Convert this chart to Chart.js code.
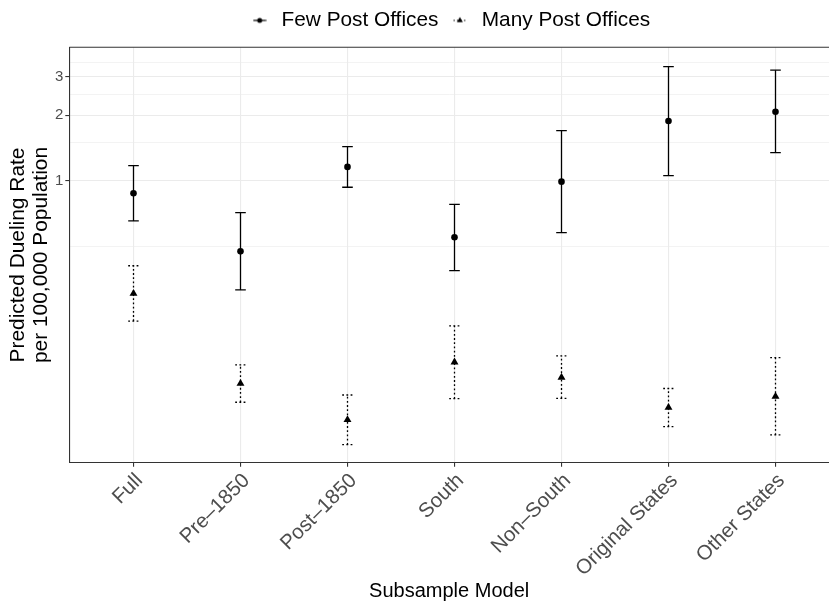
<!DOCTYPE html>
<html>
<head>
<meta charset="utf-8">
<script src="https://cdn.jsdelivr.net/npm/chart.js@4/dist/chart.umd.min.js"></script>
<style>
  html, body { margin: 0; padding: 0; background: #ffffff; overflow: hidden; }
  #wrap { width: 829px; height: 603px; position: relative; }
</style>
</head>
<body>
<div id="wrap"><canvas id="c" width="829" height="603"></canvas></div>
<script>
// ---- data ----
const categories = ["Full", "Pre\u20131850", "Post\u20131850", "South", "Non\u2013South", "Original States", "Other States"];
const seriesNames = ["Few Post Offices", "Many Post Offices"];

const fewEst  = [0.878, 0.476, 1.160, 0.552, 0.993, 1.883, 2.077];
const fewLow  = [0.656, 0.317, 0.936, 0.388, 0.580, 1.058, 1.348];
const fewHigh = [1.175, 0.716, 1.436, 0.782, 1.700, 3.340, 3.220];

const manyEst  = [0.305, 0.118, 0.0805, 0.148, 0.126, 0.0916, 0.103];
const manyLow  = [0.228, 0.0969, 0.0619, 0.1006, 0.101, 0.0749, 0.0686];
const manyHigh = [0.409, 0.1436, 0.1046, 0.217, 0.158, 0.112, 0.155];

const yMajorTicks = [1, 2, 3];
const yMinorTicks = [0.5, 1.5, 2.5, 3.5];
const yRange = [0.0512, 4.097];
const xRange = [-0.6, 6.5];

// ---- styling ----
const FONT = "'Liberation Sans', Arial, Helvetica, sans-serif";
const GRID = '#ebebeb';
const AXIS = '#333333';
const TICKTXT = '#4d4d4d';

const errorSeries = [
  { low: fewLow,  high: fewHigh,  dash: [] },
  { low: manyLow, high: manyHigh, dash: [1.8, 2.4] }
];

function makeLegendSymbol(kind) {
  const c = document.createElement('canvas');
  c.width = 14; c.height = 10;
  const g = c.getContext('2d');
  g.strokeStyle = '#000'; g.fillStyle = '#000'; g.lineWidth = 1.2;
  if (kind === 'dot') g.setLineDash([]); else g.setLineDash([1.5, 2]);
  g.beginPath(); g.moveTo(0.5, 5); g.lineTo(13.5, 5); g.stroke();
  g.setLineDash([]);
  g.beginPath();
  if (kind === 'dot') {
    g.arc(7, 5, 2.5, 0, Math.PI * 2);
  } else {
    const r = 3.4;
    g.moveTo(7, 5 - r);
    g.lineTo(7 + r * Math.sin(2 * Math.PI / 3), 5 + r / 2);
    g.lineTo(7 - r * Math.sin(2 * Math.PI / 3), 5 + r / 2);
    g.closePath();
  }
  g.fill();
  return c;
}
const legendSymbols = [makeLegendSymbol('dot'), makeLegendSymbol('tri')];

const errorBarPlugin = {
  id: 'errorBars',
  beforeDatasetsDraw(chart) {
    const { ctx, chartArea } = chart;
    const xs = chart.scales.x, ys = chart.scales.y;
    const cap = 5.3;
    ctx.save();
    ctx.beginPath();
    ctx.rect(chartArea.left, chartArea.top, chartArea.right - chartArea.left, chartArea.bottom - chartArea.top);
    ctx.clip();
    ctx.strokeStyle = '#000000';
    ctx.lineWidth = 1.3;
    errorSeries.forEach(s => {
      ctx.setLineDash(s.dash);
      s.low.forEach((lo, i) => {
        const px = xs.getPixelForValue(i);
        const pLo = ys.getPixelForValue(lo);
        const pHi = ys.getPixelForValue(s.high[i]);
        ctx.beginPath();
        ctx.moveTo(px, pLo); ctx.lineTo(px, pHi);
        ctx.stroke();
        ctx.beginPath();
        ctx.moveTo(px - cap, pLo); ctx.lineTo(px + cap, pLo);
        ctx.moveTo(px - cap, pHi); ctx.lineTo(px + cap, pHi);
        ctx.stroke();
      });
    });
    ctx.restore();
  }
};

const LEGEND_HEIGHT = 47.3;
const frameAndLegendPlugin = {
  id: 'frameAndLegend',
  beforeLayout(chart) {
    const lg = chart.legend;
    if (lg && !lg.__patched) {
      const origFit = lg.fit;
      lg.fit = function () { origFit.call(this); this.height = LEGEND_HEIGHT; };
      lg.__patched = true;
    }
  },
  afterLayout(chart) {
    if (chart.legend) {
      chart.legend.left = chart.chartArea.left;
      chart.legend.right = chart.chartArea.right;
    }
  },
  afterDraw(chart) {
    const { ctx, chartArea } = chart;
    ctx.save();
    ctx.strokeStyle = AXIS;
    ctx.lineWidth = 1.1;
    ctx.beginPath();
    ctx.moveTo(chartArea.left, chartArea.top);
    ctx.lineTo(chartArea.right + 2, chartArea.top);
    ctx.stroke();
    ctx.restore();
  }
};

const chart = new Chart(document.getElementById('c'), {
  type: 'scatter',
  data: {
    datasets: [
      {
        label: seriesNames[0],
        data: categories.map((c, i) => ({ x: i, y: fewEst[i] })),
        pointStyle: 'circle',
        pointRadius: 3.3,
        backgroundColor: '#000000',
        borderColor: '#000000',
        borderWidth: 0
      },
      {
        label: seriesNames[1],
        data: categories.map((c, i) => ({ x: i, y: manyEst[i] })),
        pointStyle: 'triangle',
        pointRadius: 4.6,
        backgroundColor: '#000000',
        borderColor: '#000000',
        borderWidth: 0
      }
    ]
  },
  options: {
    responsive: false,
    devicePixelRatio: 1,
    animation: false,
    events: [],
    layout: { autoPadding: false, padding: { left: 0, right: 0, top: 0, bottom: 0 } },
    plugins: {
      tooltip: { enabled: false },
      legend: {
        position: 'top',
        align: 'center',
        labels: {
          usePointStyle: true,
          pointStyleWidth: 23,
          padding: 10,
          color: '#000000',
          font: { family: FONT, size: 20.8 },
          generateLabels(ch) {
            const items = Chart.defaults.plugins.legend.labels.generateLabels(ch);
            items.forEach((it, i) => { it.pointStyle = legendSymbols[i]; });
            return items;
          }
        }
      }
    },
    scales: {
      x: {
        type: 'linear',
        position: 'bottom',
        min: xRange[0],
        max: xRange[1],
        afterBuildTicks(scale) {
          scale.ticks = categories.map((c, i) => ({ value: i }));
        },
        afterFit(scale) {
          scale.height = 140.3;
          scale.paddingLeft = 0;
          scale.paddingRight = 0;
        },
        ticks: {
          autoSkip: false,
          minRotation: 45,
          maxRotation: 45,
          padding: 2,
          labelOffset: 6,
          color: TICKTXT,
          font: { family: FONT, size: 20.5 },
          callback: (v) => categories[v] !== undefined ? categories[v] : ''
        },
        grid: {
          color: GRID,
          lineWidth: 1.1,
          drawTicks: true,
          tickLength: 4,
          tickColor: AXIS,
          tickWidth: 1.1
        },
        border: { display: true, color: AXIS, width: 1.1 },
        title: {
          display: true,
          text: 'Subsample Model',
          color: '#000000',
          font: { family: FONT, size: 20, lineHeight: 1.15 },
          padding: { top: 0, bottom: 0 }
        }
      },
      y: {
        type: 'logarithmic',
        position: 'left',
        min: yRange[0],
        max: yRange[1],
        afterBuildTicks(scale) {
          scale.ticks = yMinorTicks.concat(yMajorTicks)
            .sort((a, b) => a - b)
            .map(v => ({ value: v }));
        },
        afterFit(scale) {
          scale.width = 69.3;
          scale.paddingTop = 0;
          scale.paddingBottom = 0;
        },
        ticks: {
          autoSkip: false,
          padding: 2,
          color: TICKTXT,
          font: { family: FONT, size: 15 },
          callback: (v) => yMajorTicks.includes(v) ? String(v) : ''
        },
        grid: {
          color: GRID,
          lineWidth: (ctx) => (ctx.tick && yMajorTicks.includes(ctx.tick.value)) ? 1.1 : 0.6,
          drawTicks: true,
          tickLength: 4,
          tickColor: (ctx) => (ctx.tick && yMajorTicks.includes(ctx.tick.value)) ? AXIS : 'rgba(0,0,0,0)',
          tickWidth: 1.1
        },
        border: { display: true, color: AXIS, width: 1.1 },
        title: {
          display: true,
          text: ['Predicted Dueling Rate', 'per 100,000 Population'],
          color: '#000000',
          font: { family: FONT, size: 20.9, lineHeight: 1.08 },
          padding: { top: 7.2, bottom: 0 }
        }
      }
    }
  },
  plugins: [errorBarPlugin, frameAndLegendPlugin]
});
</script>
</body>
</html>
